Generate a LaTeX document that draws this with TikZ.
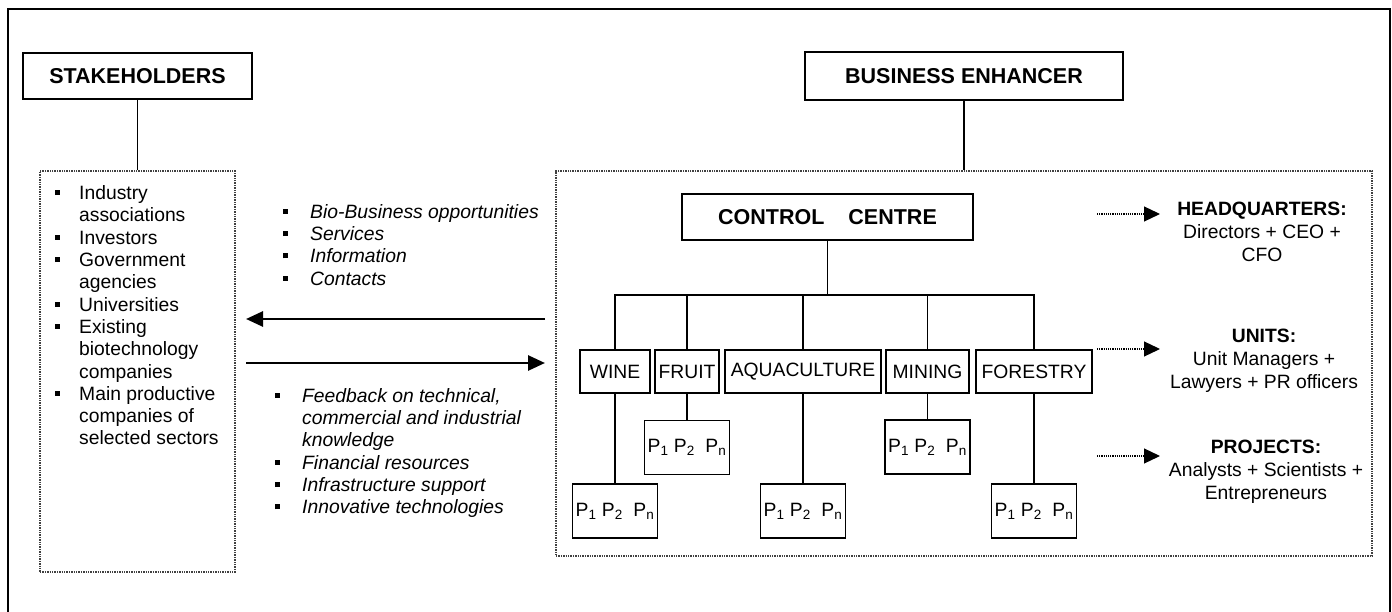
\documentclass[tikz,border=0pt]{standalone}
\usepackage{fontspec}
\setmainfont{Liberation Sans}
\usetikzlibrary{arrows.meta}
\newcommand{\blt}{\raisebox{4.5pt}{\rule{5pt}{5pt}}}
\begin{document}
\begin{tikzpicture}[x=1pt,y=-1pt,
  box/.style={draw, line width=1.5pt, inner sep=0pt, align=center},
  title/.style={box, font=\bfseries\fontsize{21.5}{24}\selectfont},
  sector/.style={box, minimum height=43pt, font=\fontsize{19.3}{22}\selectfont},
  pbox/.style={box, minimum width=85pt, minimum height=54pt, font=\fontsize{19.3}{22}\selectfont},
  dotbox/.style={draw=black!75, densely dotted, line width=1.4pt, inner sep=0pt},
  link/.style={line width=1.5pt},
  bigarrow/.style={line width=2.8pt, -{Triangle[length=17pt,width=15pt]}},
  dotarrow/.style={densely dotted, line width=1.2pt, -{Triangle[length=16pt,width=15pt]}},
  listtext/.style={anchor=north west, inner sep=0pt, font=\fontsize{19.3}{22.3}\selectfont},
  roletext/.style={anchor=north, inner sep=0pt, font=\fontsize{19.3}{23}\selectfont}
]
\useasboundingbox (0,0) rectangle (1392,612);
\clip (0,0) rectangle (1392,612);
\fill[white] (0,0) rectangle (1392,612);
% outer frame
\draw[line width=2.5pt] (8,9) rectangle (1390,700);

% titles
\node[title, minimum width=229pt, minimum height=46pt] (stake) at (137.5,76) {STAKEHOLDERS};
\node[title, minimum width=318pt, minimum height=48pt] (be) at (964,76) {BUSINESS ENHANCER};

% dotted containers
\node[dotbox, minimum width=195pt, minimum height=401pt] (stk) at (137.5,371.5) {};
\node[dotbox, minimum width=816pt, minimum height=385pt] (ent) at (964,363.5) {};
\draw[link] (stake.south) -- (stk.north);
\draw[link] (be.south) -- (ent.north);

% stakeholder list
\node[listtext] (stklist) at (55,183.8) {\begin{tabular}{@{}p{24pt}@{}l@{}}
\blt & Industry\\
 & associations\\
\blt & Investors\\
\blt & Government\\
 & agencies\\
\blt & Universities\\
\blt & Existing\\
 & biotechnology\\
 & companies\\
\blt & Main productive\\
 & companies of\\
 & selected sectors
\end{tabular}};

% middle lists
\node[listtext] (outlist) at (283,202.4) {\itshape\begin{tabular}{@{}p{27pt}@{}l@{}}
\blt & Bio-Business opportunities\\
\blt & Services\\
\blt & Information\\
\blt & Contacts
\end{tabular}};
\node[listtext] (inlist) at (275,386.5) {\itshape\begin{tabular}{@{}p{27pt}@{}l@{}}
\blt & Feedback on technical,\\
 & commercial and industrial\\
 & knowledge\\
\blt & Financial resources\\
\blt & Infrastructure support\\
\blt & Innovative technologies
\end{tabular}};

% flow arrows
\coordinate (a1) at (545,319);
\coordinate (a2) at (246,319);
\coordinate (b1) at (246,363);
\coordinate (b2) at (545,363);
\draw[bigarrow] (a1) -- (a2);
\draw[bigarrow] (b1) -- (b2);

% control centre tree
\node[title, minimum width=291pt, minimum height=46pt] (cc) at (827.5,217) {CONTROL\hspace{24pt}CENTRE};
\coordinate (bus) at (827.5,295);
\node[sector, minimum width=70pt] (wine) at (615,371.5) {WINE};
\node[sector, minimum width=64pt] (fruit) at (687,371.5) {FRUIT};
\node[sector, minimum width=156pt] (aqua) at (803,371.5) {AQUACULTURE};
\node[sector, minimum width=83pt] (mining) at (927.5,371.5) {MINING};
\node[sector, minimum width=116pt] (forest) at (1034,371.5) {FORESTRY};
\draw[link] (cc.south) -- (bus);
\draw[link] (bus) -| (wine.north);
\draw[link] (bus) -| (fruit.north);
\draw[link] (bus) -| (aqua.north);
\draw[link] (bus) -| (mining.north);
\draw[link] (bus) -| (forest.north);

\node[pbox] (wineP) at (615,511) {P\textsubscript{1} P\textsubscript{2}\ \ P\textsubscript{n}};
\node[pbox] (fruitP) at (687,447.5) {P\textsubscript{1} P\textsubscript{2}\ \ P\textsubscript{n}};
\node[pbox] (aquaP) at (803,511) {P\textsubscript{1} P\textsubscript{2}\ \ P\textsubscript{n}};
\node[pbox] (miningP) at (927.5,447) {P\textsubscript{1} P\textsubscript{2}\ \ P\textsubscript{n}};
\node[pbox] (forestP) at (1034,511) {P\textsubscript{1} P\textsubscript{2}\ \ P\textsubscript{n}};
\draw[link] (wine.south) -- (wineP.north);
\draw[link] (fruit.south) -- (fruitP.north);
\draw[link] (aqua.south) -- (aquaP.north);
\draw[link] (mining.south) -- (miningP.north);
\draw[link] (forest.south) -- (forestP.north);

% roles
\node[roletext] (hq) at (1262,198.9) {\begin{tabular}{@{}c@{}}
\textbf{HEADQUARTERS:}\\ Directors + CEO +\\ CFO\end{tabular}};
\node[roletext] (units) at (1264,325.9) {\begin{tabular}{@{}c@{}}
\textbf{UNITS:}\\ Unit Managers +\\ Lawyers + PR officers\end{tabular}};
\node[roletext] (proj) at (1266,436.9) {\begin{tabular}{@{}c@{}}
\textbf{PROJECTS:}\\ Analysts + Scientists +\\ Entrepreneurs\end{tabular}};
\coordinate (h1) at (1097,214);
\coordinate (h2) at (1160,214);
\coordinate (u1) at (1097,349);
\coordinate (u2) at (1160,349);
\coordinate (p1) at (1097,456);
\coordinate (p2) at (1160,456);
\draw[dotarrow] (h1) -- (h2);
\draw[dotarrow] (u1) -- (u2);
\draw[dotarrow] (p1) -- (p2);
\end{tikzpicture}
\end{document}
